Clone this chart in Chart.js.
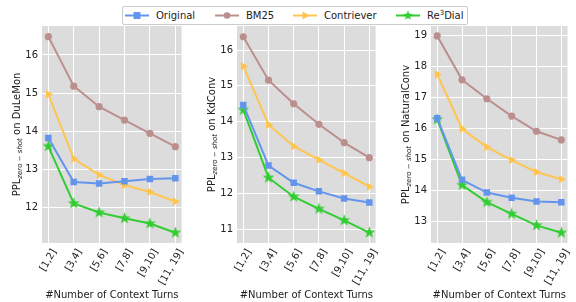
<!DOCTYPE html>
<html>
<head>
<meta charset="utf-8">
<script src="https://cdn.jsdelivr.net/npm/chart.js@4"></script>
<style>
  body { margin: 0; background: #fff; font-family: "DejaVu Sans", sans-serif; }
  #wrap { position: relative; width: 576px; height: 302px; overflow: hidden; }
  .panel { position: absolute; top: 0; height: 302px; }
  #legend { position: absolute; left: 122px; top: 6px; width: 344px; height: 17px;
    border: 1px solid #cccccc; border-radius: 2px; background: #fff; font-size: 10px; color: #222; }
  .item { position: absolute; top: 0; height: 17px; line-height: 17px; white-space: nowrap; }
  .item canvas { position: absolute; top: 2px; left: 0; }
  .item span { position: absolute; top: 0; }
</style>
</head>
<body>
<div id="wrap">
  <div class="panel" style="left:0;width:190px"><canvas id="c0"></canvas></div>
  <div class="panel" style="left:190px;width:194px"><canvas id="c1"></canvas></div>
  <div class="panel" style="left:384px;width:192px"><canvas id="c2"></canvas></div>
  <div id="legend"></div>
</div>
<script>
// categories (context turns)
var turns = ['[1,2]', '[3,4]', '[5,6]', '[7,8]', '[9,10]', '[11, 19]'];

// DuLeMon
var dulemonOriginal  = [13.82, 12.66, 12.62, 12.68, 12.74, 12.76];
var dulemonBM25      = [16.48, 15.18, 14.64, 14.29, 13.94, 13.59];
var dulemonContriever= [14.97, 13.27, 12.85, 12.58, 12.40, 12.15];
var dulemonRe3Dial   = [13.60, 12.10, 11.86, 11.71, 11.57, 11.33];

// KdConv
var kdconvOriginal   = [14.47, 12.78, 12.30, 12.06, 11.86, 11.75];
var kdconvBM25       = [16.37, 15.16, 14.50, 13.93, 13.42, 13.00];
var kdconvContriever = [15.55, 13.92, 13.32, 12.94, 12.57, 12.19];
var kdconvRe3Dial    = [14.33, 12.44, 11.91, 11.57, 11.25, 10.91];

// NaturalConv
var naturalOriginal  = [16.34, 14.35, 13.94, 13.77, 13.65, 13.63];
var naturalBM25      = [19.00, 17.58, 16.97, 16.41, 15.92, 15.64];
var naturalContriever= [17.76, 16.00, 15.41, 14.99, 14.60, 14.37];
var naturalRe3Dial   = [16.30, 14.18, 13.63, 13.25, 12.88, 12.64];

var methods = ['Original', 'BM25', 'Contriever', 'Re\u00b3Dial'];
var colors = ['#6495ed', '#bc8f8f', '#ffc54f', '#32cd32'];

// star marker as an image (chart.js 'star' is only an asterisk)
function starImage(size, color) {
  var c = document.createElement('canvas');
  c.width = size; c.height = size;
  var g = c.getContext('2d');
  var cx = size / 2, cy = size / 2, ro = size / 2 - 0.3, ri = ro * 0.42;
  g.beginPath();
  for (var i = 0; i < 10; i++) {
    var r = i % 2 ? ri : ro;
    var a = -Math.PI / 2 + i * Math.PI / 5;
    g.lineTo(cx + r * Math.cos(a), cy + r * Math.sin(a));
  }
  g.closePath();
  g.fillStyle = color;
  g.fill();
  return c;
}
var star = starImage(13, colors[3]);

function series(vals, i) {
  var styles = [
    { pointStyle: 'rect', pointRadius: 4.6, pointRotation: 0 },
    { pointStyle: 'circle', pointRadius: 3.6, pointRotation: 0 },
    { pointStyle: 'triangle', pointRadius: 4.8, pointRotation: 90 },
    { pointStyle: star, pointRadius: 6, pointRotation: 0 }
  ];
  return Object.assign({
    label: methods[i],
    data: vals.map(function (v, k) { return { x: k, y: v }; }),
    borderColor: colors[i],
    backgroundColor: colors[i],
    borderWidth: 2,
    pointBorderWidth: 0,
    pointHoverRadius: 5,
    tension: 0
  }, styles[i]);
}

var plotBg = {
  id: 'plotBg',
  beforeDraw: function (chart) {
    var a = chart.chartArea, ctx = chart.ctx;
    ctx.save();
    ctx.fillStyle = '#dcdcdc';
    ctx.fillRect(a.left, a.top, a.right - a.left, a.bottom - a.top);
    ctx.restore();
  }
};

// y title with subscript
var yTitle = {
  id: 'yTitle',
  afterDraw: function (chart) {
    var o = chart.options.plugins.yTitle;
    var a = chart.chartArea, ctx = chart.ctx;
    var cy = (a.top + a.bottom) / 2;
    var big = '10px "DejaVu Sans"', small = 'italic 7px "DejaVu Sans"';
    ctx.save();
    ctx.fillStyle = '#222';
    ctx.textBaseline = 'alphabetic';
    ctx.font = big;
    var w1 = ctx.measureText('PPL').width;
    var w3 = ctx.measureText(' on ' + o.name).width;
    ctx.font = small;
    var w2 = ctx.measureText('zero \u2212 shot').width;
    var total = w1 + w2 + w3;
    ctx.translate(o.x, cy);
    ctx.rotate(-Math.PI / 2);
    var x = -total / 2;
    ctx.font = big;
    ctx.fillText('PPL', x, 3.5);
    x += w1;
    ctx.font = small;
    ctx.fillText('zero \u2212 shot', x, 5.5);
    x += w2;
    ctx.font = big;
    ctx.fillText(' on ' + o.name, x, 3.5);
    ctx.restore();
  }
};

function makeChart(id, name, data, yMin, yMax, yAxisW, padRight, titleX) {
  return new Chart(document.getElementById(id), {
    type: 'line',
    data: { datasets: data.map(series) },
    plugins: [plotBg, yTitle],
    options: {
      responsive: true,
      maintainAspectRatio: false,
      animation: false,
      layout: { padding: { top: 26, right: padRight, bottom: 0, left: 0 } },
      plugins: {
        legend: { display: false },
        tooltip: { enabled: true },
        yTitle: { name: name, x: titleX }
      },
      scales: {
        x: {
          type: 'linear',
          min: -0.25,
          max: 5.25,
          afterBuildTicks: function (s) { s.ticks = turns.map(function (t, k) { return { value: k }; }); },
          afterFit: function (s) { s.height = 59; },
          grid: { color: '#ffffff', lineWidth: 1, drawTicks: false },
          border: { display: false },
          ticks: {
            autoSkip: false,
            minRotation: 60,
            maxRotation: 60,
            padding: 4,
            labelOffset: 6,
            color: '#222',
            font: { family: 'DejaVu Sans', size: 10 },
            callback: function (v) { return turns[v]; }
          },
          title: {
            display: true,
            text: '#Number of Context Turns',
            color: '#222',
            font: { family: 'DejaVu Sans', size: 10 },
            padding: { top: 0, bottom: 1 }
          }
        },
        y: {
          min: yMin,
          max: yMax,
          afterFit: function (s) { s.width = yAxisW; },
          grid: { color: '#ffffff', lineWidth: 1, drawTicks: false },
          border: { display: false },
          ticks: {
            stepSize: 1,
            includeBounds: false,
            padding: 4,
            color: '#222',
            font: { family: 'DejaVu Sans', size: 10 }
          }
        }
      }
    }
  });
}

makeChart('c0', 'DuLeMon',
  [dulemonOriginal, dulemonBM25, dulemonContriever, dulemonRe3Dial],
  11.06, 16.76, 42, 7, 16);
makeChart('c1', 'KdConv',
  [kdconvOriginal, kdconvBM25, kdconvContriever, kdconvRe3Dial],
  10.62, 16.67, 47, 6, 21);
makeChart('c2', 'NaturalConv',
  [naturalOriginal, naturalBM25, naturalContriever, naturalRe3Dial],
  12.31, 19.32, 47, 5, 21);

// legend
var legend = document.getElementById('legend');
var lx = [2, 92, 170, 273];
methods.forEach(function (m, i) {
  var it = document.createElement('div');
  it.className = 'item';
  it.style.left = lx[i] + 'px';
  var c = document.createElement('canvas');
  c.width = 24; c.height = 13;
  var g = c.getContext('2d');
  g.strokeStyle = colors[i];
  g.lineWidth = 2;
  g.beginPath(); g.moveTo(0, 6.5); g.lineTo(24, 6.5); g.stroke();
  g.fillStyle = colors[i];
  g.beginPath();
  if (i === 0) { g.rect(8.5, 3, 7, 7); }
  else if (i === 1) { g.arc(12, 6.5, 3.3, 0, Math.PI * 2); }
  else if (i === 2) { g.moveTo(16.5, 6.5); g.lineTo(9.5, 2.5); g.lineTo(9.5, 10.5); g.closePath(); }
  g.fill();
  if (i === 3) { g.drawImage(starImage(11, colors[3]), 6.5, 1); }
  it.appendChild(c);
  var s = document.createElement('span');
  s.style.left = '31px';
  if (i === 3) { s.innerHTML = 'Re<sup style="font-size:7px;line-height:0">3</sup>Dial'; }
  else { s.textContent = m; }
  it.appendChild(s);
  legend.appendChild(it);
});
</script>
</body>
</html>
